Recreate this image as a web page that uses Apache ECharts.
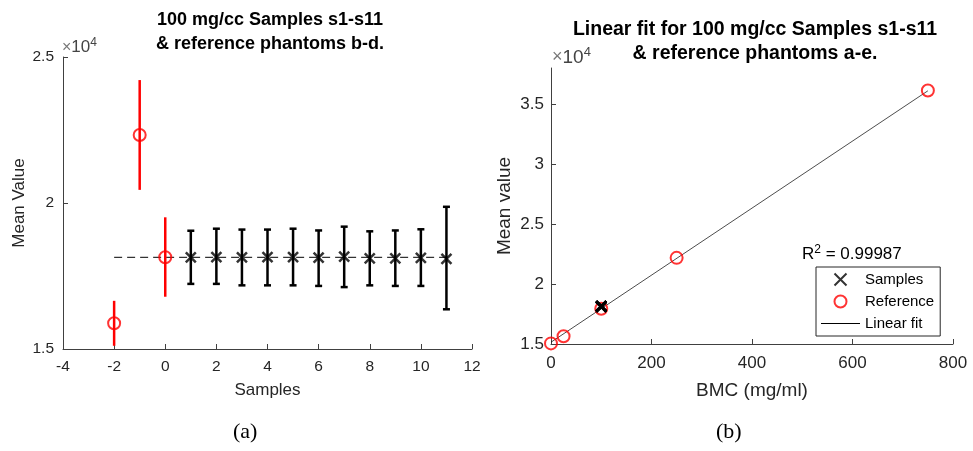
<!DOCTYPE html>
<html>
<head>
<meta charset="utf-8">
<script src="https://cdn.jsdelivr.net/npm/echarts@6/dist/echarts.min.js"></script>
<style>
  html, body { margin: 0; padding: 0; background: #fff; }
  #chart { width: 973px; height: 451px; }
</style>
</head>
<body>
<div id="chart"></div>
<script>
// (a) reference phantoms b-d plotted at x = -2..0
const refX = [-2, -1, 0];
const refMean = [15880, 22330, 18140];
const refLow = [15110, 20450, 16790];
const refHigh = [16650, 24210, 19510];

// (a) samples s1-s11
const sampleX = [1, 2, 3, 4, 5, 6, 7, 8, 9, 10, 11];
const sampleMean = [18140, 18150, 18140, 18150, 18150, 18130, 18160, 18100, 18100, 18120, 18090];
const sampleLow = [17230, 17230, 17180, 17180, 17180, 17160, 17120, 17180, 17160, 17160, 16360];
const sampleHigh = [19050, 19120, 19090, 19090, 19120, 19060, 19190, 19030, 19060, 19100, 19870];

// dashed level line in (a)
const levelX = [-2, 11];
const levelY = [18140, 18140];

// (b) reference phantoms a-e
const bmcRef = [0, 25, 100, 250, 750];
const meanRef = [15050, 15650, 17940, 22180, 36130];
// (b) samples all at 100 mg/ml
const bmcSample = 100;
// (b) linear fit end points
const fitX = [0, 750];
const fitY = [15150, 36100];

const leftTicks = [15000, 20000, 25000];
const rightTicks = [15000, 20000, 25000, 30000, 35000];

const XMARK = 'path://M0,0L10,10M0,10L10,0';
const axisColor = '#404040';
const textColor = '#262626';
const font = 'Liberation Sans, Arial, sans-serif';

function errorBars(color, capHalf) {
  return function (params, api) {
    const x = api.value(0);
    const top = api.coord([x, api.value(2)]);
    const bot = api.coord([x, api.value(1)]);
    const style = { stroke: color, lineWidth: 2.5 };
    const children = [{
      type: 'line',
      shape: { x1: top[0], y1: top[1], x2: bot[0], y2: bot[1] },
      style: style
    }];
    if (capHalf) {
      children.push({ type: 'line', shape: { x1: top[0] - capHalf, y1: top[1], x2: top[0] + capHalf, y2: top[1] }, style: style });
      children.push({ type: 'line', shape: { x1: bot[0] - capHalf, y1: bot[1], x2: bot[0] + capHalf, y2: bot[1] }, style: style });
    }
    return { type: 'group', children: children };
  };
}

function axisBase(fontSize) {
  return {
    axisLine: { show: true, onZero: false, lineStyle: { color: axisColor, width: 1 } },
    axisTick: { show: true, inside: true, length: 5, lineStyle: { color: axisColor } },
    splitLine: { show: false },
    axisLabel: { color: textColor, fontSize: fontSize, fontFamily: font },
    nameTextStyle: { color: textColor, fontFamily: font }
  };
}

const chart = echarts.init(document.getElementById('chart'));

chart.setOption({
  animation: false,
  backgroundColor: '#fff',
  title: [{
    text: '100 mg/cc Samples s1-s11\n& reference phantoms b-d.',
    left: 265, top: 3, textAlign: 'center',
    textStyle: { fontSize: 18, fontWeight: 'bold', color: '#000', fontFamily: font, lineHeight: 24 }
  }, {
    text: 'Linear fit for 100 mg/cc Samples s1-s11\n& reference phantoms a-e.',
    left: 750, top: 13, textAlign: 'center',
    textStyle: { fontSize: 19.5, fontWeight: 'bold', color: '#000', fontFamily: font, lineHeight: 24 }
  }],
  grid: [
    { left: 63, top: 57, width: 409, height: 292 },
    { left: 551, top: 68, width: 402, height: 276 }
  ],
  xAxis: [
    Object.assign(axisBase(15), {
      type: 'value', gridIndex: 0, min: -4, max: 12, interval: 2,
      name: 'Samples', nameLocation: 'middle', nameGap: 33,
      nameTextStyle: { color: textColor, fontFamily: font, fontSize: 17 },
      axisLabel: { color: textColor, fontSize: 15.5, fontFamily: font, margin: 10 }
    }),
    Object.assign(axisBase(17), {
      type: 'value', gridIndex: 1, min: 0, max: 800, interval: 200,
      name: 'BMC (mg/ml)', nameLocation: 'middle', nameGap: 37,
      nameTextStyle: { color: textColor, fontFamily: font, fontSize: 19 },
      axisLabel: { color: textColor, fontSize: 17, fontFamily: font, margin: 11 }
    })
  ],
  yAxis: [
    Object.assign(axisBase(15), {
      type: 'value', gridIndex: 0, min: 15000, max: 25000, interval: 5000,
      name: 'Mean Value', nameLocation: 'middle', nameGap: 35,
      nameTextStyle: { color: textColor, fontFamily: font, fontSize: 17 },
      axisLabel: { color: textColor, fontSize: 15.5, fontFamily: font, margin: 9,
        customValues: leftTicks, formatter: v => String(v / 10000) },
      axisTick: { show: true, inside: true, length: 5, lineStyle: { color: axisColor }, customValues: leftTicks }
    }),
    Object.assign(axisBase(17), {
      type: 'value', gridIndex: 1, min: 15000, max: 38000, interval: 5000,
      name: 'Mean value', nameLocation: 'middle', nameGap: 37,
      nameTextStyle: { color: textColor, fontFamily: font, fontSize: 19 },
      axisLabel: { color: textColor, fontSize: 17, fontFamily: font, margin: 7,
        customValues: rightTicks, formatter: v => String(v / 10000) },
      axisTick: { show: true, inside: true, length: 5, lineStyle: { color: axisColor }, customValues: rightTicks }
    })
  ],
  legend: {
    left: 816, top: 267, orient: 'vertical',
    padding: [5, 6, 5, 5], itemGap: 7, itemWidth: 39, itemHeight: 12,
    borderColor: '#262626', borderWidth: 1, backgroundColor: '#fff',
    textStyle: { color: '#000', fontSize: 15, fontFamily: font },
    data: [
      { name: 'Samples', icon: XMARK },
      { name: 'Reference', icon: 'circle' },
      { name: 'Linear fit', icon: 'path://M0,0H40V1H0Z', itemStyle: { color: '#000', borderWidth: 0 } }
    ]
  },
  graphic: [
    { type: 'text', left: 62, top: 37, style: {
      text: '{a|×}{b|10}{c|4}',
      rich: { a: { fontSize: 16, fontFamily: font, fill: '#777' }, b: { fontSize: 17, fontFamily: font, fill: '#444' },
              c: { fontSize: 12, fontFamily: font, fill: '#444', padding: [0, 0, 9, 0] } } } },
    { type: 'text', left: 552, top: 46, style: {
      text: '{a|×}{b|10}{c|4}',
      rich: { a: { fontSize: 18, fontFamily: font, fill: '#777' }, b: { fontSize: 19, fontFamily: font, fill: '#444' },
              c: { fontSize: 13, fontFamily: font, fill: '#444', padding: [0, 0, 10, 0] } } } },
    { type: 'text', left: 802, top: 244, style: {
      text: '{a|R}{b|2}{a| = 0.99987}',
      rich: { a: { fontSize: 17, fontFamily: font, fill: '#000' },
              b: { fontSize: 12, fontFamily: font, fill: '#000', padding: [0, 0, 9, 0] } } } },
    { type: 'text', left: 233, top: 421, style: {
      text: '(a)', fontSize: 22, fontFamily: 'Liberation Serif, DejaVu Serif, serif', fill: '#000' } },
    { type: 'text', left: 716, top: 421, style: {
      text: '(b)', fontSize: 22, fontFamily: 'Liberation Serif, DejaVu Serif, serif', fill: '#000' } }
  ],
  series: [
    {
      name: 'Level (a)', type: 'line', xAxisIndex: 0, yAxisIndex: 0, z: 1,
      data: levelX.map((x, i) => [x, levelY[i]]), symbol: 'none',
      lineStyle: { color: '#000', width: 1, type: [8, 5] }
    },
    {
      name: 'Sample bars (a)', type: 'custom', xAxisIndex: 0, yAxisIndex: 0, z: 2,
      renderItem: errorBars('#000', 3.5),
      encode: { x: 0, y: [1, 2] },
      data: sampleX.map((x, i) => [x, sampleLow[i], sampleHigh[i]])
    },
    {
      name: 'Reference bars (a)', type: 'custom', xAxisIndex: 0, yAxisIndex: 0, z: 2,
      renderItem: errorBars('#ff0000', 0),
      encode: { x: 0, y: [1, 2] },
      data: refX.map((x, i) => [x, refLow[i], refHigh[i]])
    },
    {
      name: 'Samples (a)', type: 'scatter', xAxisIndex: 0, yAxisIndex: 0, z: 3,
      symbol: XMARK, symbolSize: 10,
      itemStyle: { color: 'rgba(0,0,0,0)', borderColor: '#000', borderWidth: 2.5 },
      data: sampleX.map((x, i) => [x, sampleMean[i]])
    },
    {
      name: 'Reference (a)', type: 'scatter', xAxisIndex: 0, yAxisIndex: 0, z: 3,
      symbol: 'circle', symbolSize: 12,
      itemStyle: { color: 'rgba(0,0,0,0)', borderColor: '#ff0000', borderWidth: 2 },
      data: refX.map((x, i) => [x, refMean[i]])
    },
    {
      name: 'Linear fit', type: 'line', xAxisIndex: 1, yAxisIndex: 1, z: 1,
      data: fitX.map((x, i) => [x, fitY[i]]), symbol: 'none',
      itemStyle: { color: '#000' },
      lineStyle: { color: '#000', width: 0.7 }
    },
    {
      name: 'Reference', type: 'scatter', xAxisIndex: 1, yAxisIndex: 1, z: 3,
      symbol: 'circle', symbolSize: 12,
      itemStyle: { color: 'rgba(0,0,0,0)', borderColor: '#ff0000', borderWidth: 2 },
      data: bmcRef.map((x, i) => [x, meanRef[i]])
    },
    {
      name: 'Samples', type: 'scatter', xAxisIndex: 1, yAxisIndex: 1, z: 4,
      symbol: XMARK, symbolSize: 10,
      itemStyle: { color: 'rgba(0,0,0,0)', borderColor: '#000', borderWidth: 2.5 },
      data: sampleMean.map(v => [bmcSample, v])
    }
  ]
});
</script>
</body>
</html>
